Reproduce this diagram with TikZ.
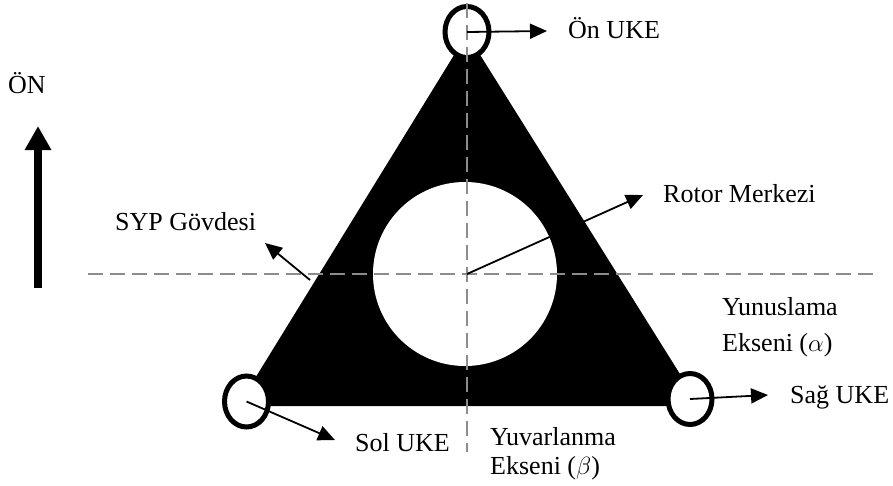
\documentclass[tikz,border=0pt]{standalone}
\usepackage{fontspec}
\setmainfont{Liberation Serif}
\usetikzlibrary{arrows.meta,shapes.geometric}
\begin{document}
\begin{tikzpicture}[x=1pt,y=-1pt,
  lbl/.style={inner sep=0pt, font=\fontsize{26}{30}\selectfont, anchor=base west},
  lbltwo/.style={inner sep=0pt, align=left, anchor=north west},
  ptr/.style={line width=1.8pt, -{Triangle[length=17pt,width=15pt]}},
  axisline/.style={draw=black!45, line width=2pt, dash pattern=on 15pt off 7pt},
  uke/.style={ellipse, draw=black, fill=white, line width=5pt, inner sep=0pt,
              minimum width=44pt, minimum height=51pt}]
\useasboundingbox (0,0) rectangle (893,485);

% body (SYP Gövdesi)
\fill[black] (467,34) -- (238,406) -- (700,406) -- cycle;
\node[circle, fill=white, inner sep=0pt, minimum size=184pt] (rotor) at (465,274) {};

% UKE rings
\node[uke] (onuke) at (467,32) {};
\node[uke] (soluke) at (246.5,401.5) {};
\node[uke] (saguke) at (690,399) {};

% axes
\draw[axisline] (88,274) -- (875,274);
\draw[axisline] (467,3) -- (467,452);
\coordinate (rc) at (467,274);

% labels
\node[lbl] (onl) at (568,38) {Ön UKE};
\node[lbl] (soll) at (355,451) {Sol UKE};
\node[lbl] (sagl) at (790,403) {Sağ UKE};
\node[lbl] (sypl) at (115,230) {SYP Gövdesi};
\node[lbl] (rotl) at (663,202) {Rotor Merkezi};
\node[lbl] (onyon) at (8,93) {ÖN};
\node[lbltwo, font=\fontsize{26}{36}\selectfont] (yun) at (722,297)
  {Yunuslama\\Ekseni ($\alpha$)};
\node[lbltwo, font=\fontsize{26}{29}\selectfont] (yuv) at (490,427)
  {Yuvarlanma\\Ekseni ($\beta$)};

% pointer arrows
\coordinate (ontip) at (547,31);
\coordinate (soltip) at (335,440);
\coordinate (sagtip) at (768,395);
\coordinate (sypfrom) at (310,280);
\coordinate (syptip) at (265,243);
\coordinate (rottip) at (643,195);
\draw[ptr] (onuke.center) -- (ontip);
\draw[ptr] (soluke.center) -- (soltip);
\draw[ptr] (saguke.center) -- (sagtip);
\draw[ptr] (sypfrom) -- (syptip);
\draw[ptr] (rc) -- (rottip);

% forward direction arrow
\coordinate (onbot) at (38,288);
\coordinate (ontop) at (38,126);
\draw[line width=8pt, -{Triangle[length=24pt,width=25pt]}] (onbot) -- (ontop);
\end{tikzpicture}
\end{document}
